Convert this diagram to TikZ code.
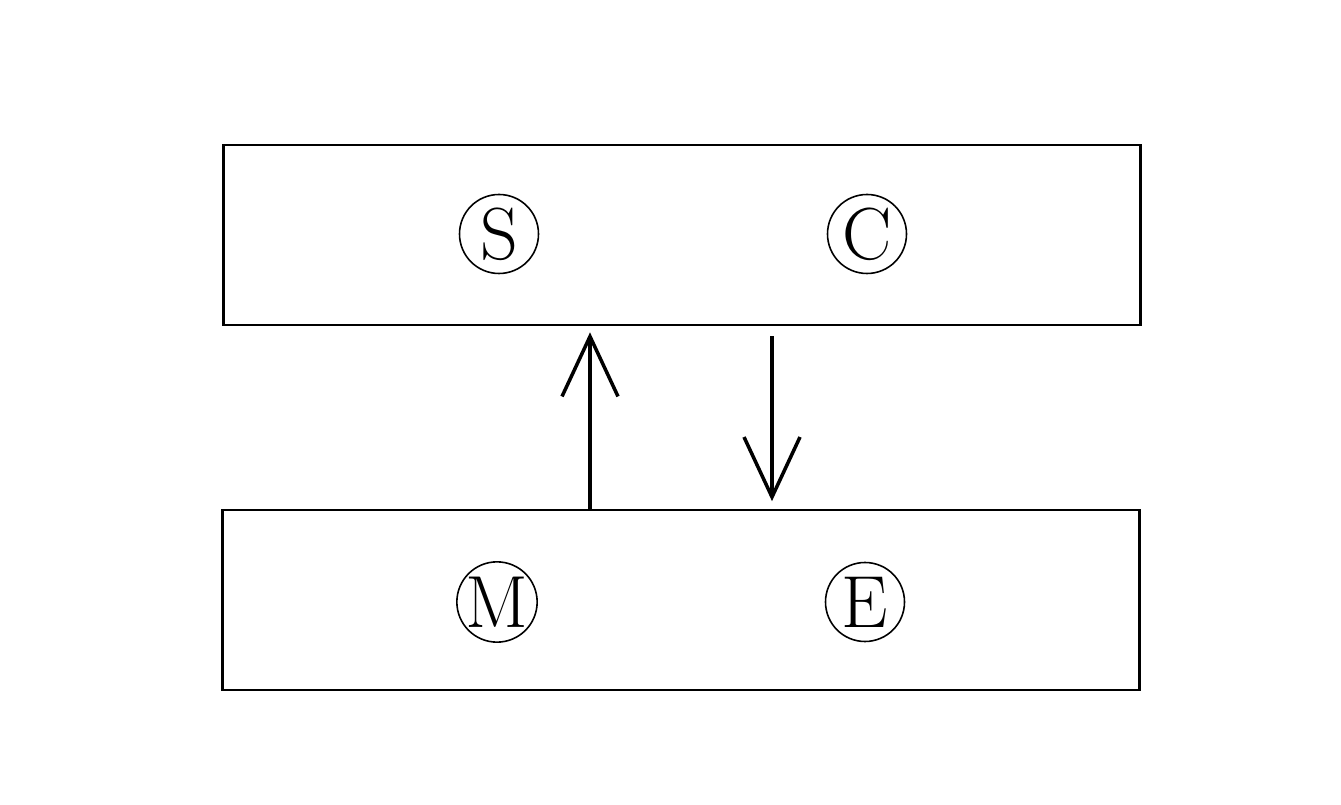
\documentclass[tikz,border=0pt]{standalone}
\usepackage{amsmath}
\usepackage{amssymb}
\usetikzlibrary{shapes,arrows.meta}

\tikzset{
  box/.style={rectangle, draw, line width=1.5pt, minimum width=18.34cm, minimum height=3.6cm, inner sep=0pt},
  letter/.style={circle, draw, line width=0.9pt, minimum size=1.58cm, inner sep=0pt, font=\fontsize{42}{44}\selectfont},
  flow/.style={line width=2pt, -{Straight Barb[length=1.2cm, width=1.12cm, line width=2pt]}}
}

\begin{document}
\begin{tikzpicture}
\useasboundingbox (0,0) rectangle (26.82,16.08);

\node[box] (top) at (13.64, 11.38) {};
\node[box] (bot) at (13.62, 4.08) {};

\node[letter] (s) at (9.98, 11.4) {S};
\node[letter] (c) at (17.34, 11.4) {C};
\node[letter] (m) at (9.94, 4.04) {M};
\node[letter] (e) at (17.3, 4.04) {E};

\coordinate (up) at (11.8, 0);
\coordinate (down) at (15.44, 0);
\draw[flow, shorten >=0.12cm] (bot.north -| up) -- (top.south -| up);
\draw[flow, shorten <=0.2cm, shorten >=0.15cm] (top.south -| down) -- (bot.north -| down);
\end{tikzpicture}
\end{document}
